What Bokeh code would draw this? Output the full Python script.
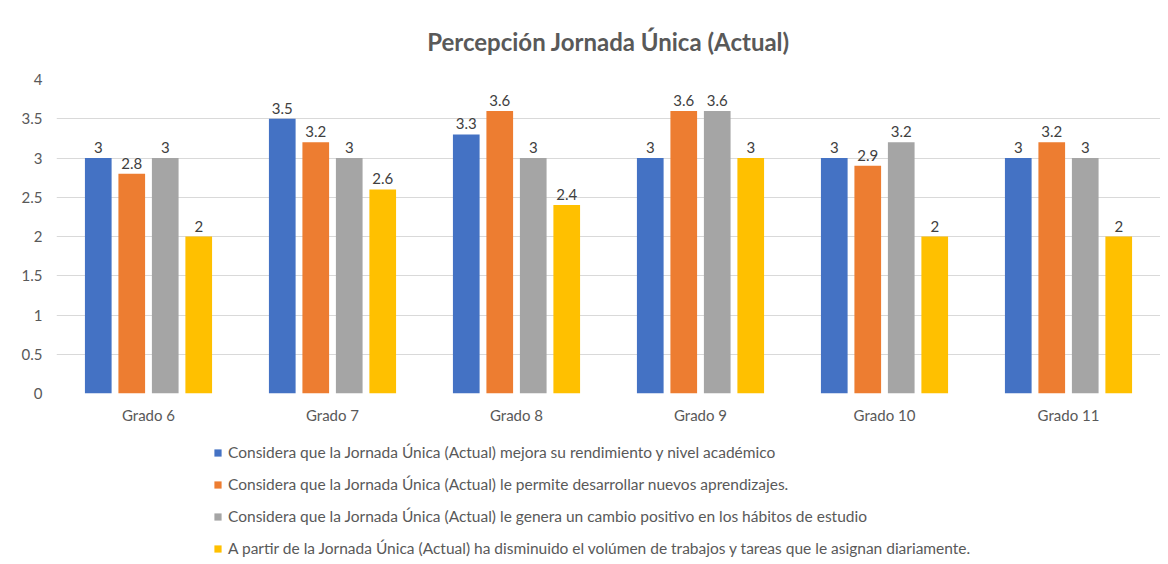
from bokeh.plotting import figure
from bokeh.layouts import column
from bokeh.models import (ColumnDataSource, FactorRange, Legend, LegendItem, Range1d,
                          FixedTicker, NumeralTickFormatter)
from bokeh.core.properties import value
from bokeh.transform import dodge
from bokeh.embed import file_html
from bokeh.resources import INLINE

categories = ["Grado 6", "Grado 7", "Grado 8", "Grado 9", "Grado 10", "Grado 11"]
series_names = [
    "Considera que la Jornada Única (Actual) mejora su rendimiento y nivel académico",
    "Considera que la Jornada Única (Actual) le permite desarrollar nuevos aprendizajes.",
    "Considera que la Jornada Única (Actual) le genera un cambio positivo en los hábitos de estudio",
    "A partir de la Jornada Única (Actual) ha disminuido el volúmen de trabajos y tareas que le asignan diariamente.",
]
s1 = [3, 3.5, 3.3, 3, 3, 3]
s2 = [2.8, 3.2, 3.6, 3.6, 2.9, 3.2]
s3 = [3, 3, 3, 3.6, 3.2, 3]
s4 = [2, 2.6, 2.4, 3, 2, 2]
series_values = [s1, s2, s3, s4]
colors = ["#4472C4", "#ED7D31", "#A5A5A5", "#FFC000"]
y_ticks = [0, 0.5, 1, 1.5, 2, 2.5, 3, 3.5, 4]

FONT = "Lato"

p = figure(x_range=FactorRange(*categories), y_range=Range1d(0, 4),
           frame_width=1104, frame_height=314, output_backend="svg", toolbar_location=None,
           min_border_left=56, min_border_right=0, min_border_top=79, min_border_bottom=40)

p.title.text = "Percepción Jornada Única (Actual)"
p.title.align = "center"
p.title.text_font = FONT
p.title.text_font_size = "24px"
p.title.text_font_style = "bold"
p.title.text_color = "#595959"
p.title.standoff = 48

offsets = [-0.273, -0.091, 0.091, 0.273]
bar_w = 0.145

def fmt(v):
    return "%g" % v

for name, vals, col, off in zip(series_names, series_values, colors, offsets):
    src = ColumnDataSource(dict(cat=categories, val=vals, lbl=[fmt(v) for v in vals]))
    p.vbar(x=dodge("cat", off, range=p.x_range), top="val", width=bar_w, source=src,
           fill_color=col, line_color=None)
    p.text(x=dodge("cat", off, range=p.x_range), y="val", text="lbl", source=src,
           text_align="center", text_baseline="bottom", y_offset=-5,
           text_font_size="15px", text_color="#404040", text_font=value(FONT))

p.xgrid.grid_line_color = None
p.ygrid.grid_line_color = "#D9D9D9"
p.ygrid.grid_line_width = 1
p.outline_line_color = None

p.yaxis.ticker = FixedTicker(ticks=y_ticks)
p.yaxis.formatter = NumeralTickFormatter(format="0.[0]")
for ax in (p.xaxis[0], p.yaxis[0]):
    ax.axis_line_color = None
    ax.major_tick_line_color = None
    ax.minor_tick_line_color = None
    ax.major_tick_out = 0
    ax.minor_tick_out = 0
    ax.major_label_text_font = FONT
    ax.major_label_text_font_size = "15px"
    ax.major_label_text_color = "#595959"
p.yaxis.major_label_standoff = 14
p.xaxis.major_label_standoff = 12

# legend panel below the chart (its bars lie outside its visible y range)
lg = figure(width=1160, height=127, output_backend="svg", toolbar_location=None,
            x_range=FactorRange(*categories), y_range=Range1d(10, 11),
            min_border=0, min_border_left=0, min_border_right=0, min_border_top=0, min_border_bottom=0)
lg.axis.visible = False
lg.grid.visible = False
lg.outline_line_color = None
items = []
for name, vals, col in zip(series_names, series_values, colors):
    proxy = lg.vbar(x=categories, top=vals, width=0.1, fill_color=col, line_color=None)
    items.append(LegendItem(label=name, renderers=[proxy]))
legend = Legend(items=items, location=(157, 2), orientation="vertical",
                border_line_color=None, background_fill_alpha=0,
                label_text_font=FONT, label_text_font_size="15.5px", label_text_color="#595959",
                glyph_width=9, glyph_height=9, label_standoff=6, label_height=20,
                spacing=12, padding=0, margin=0)
lg.add_layout(legend, "center")

layout = column(p, lg, spacing=0)
open("out.html", "w").write(file_html(layout, INLINE))
